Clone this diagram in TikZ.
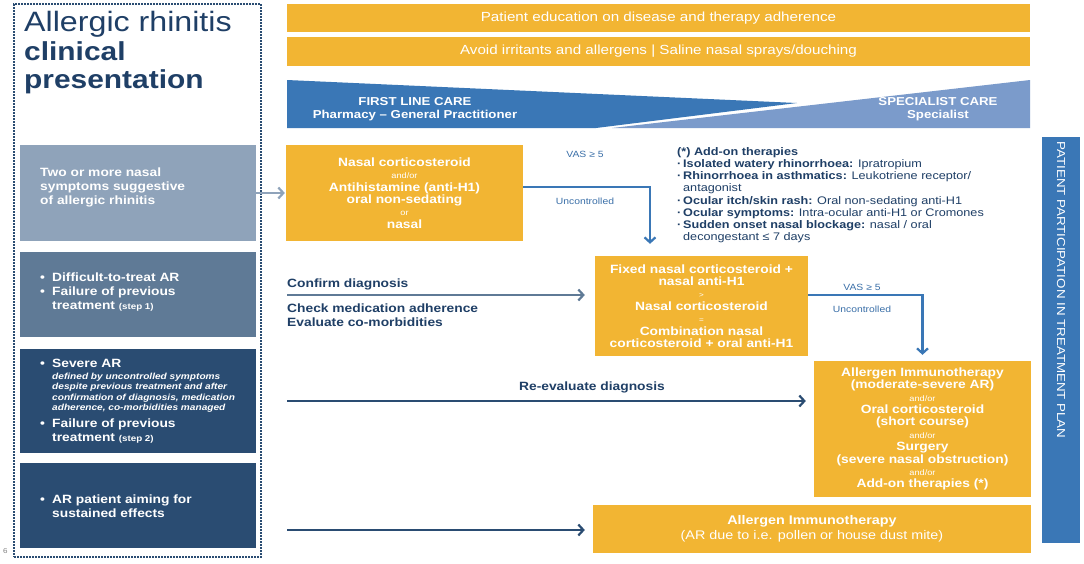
\documentclass[tikz,border=0pt]{standalone}
\usepackage{fontspec}
\setmainfont{Liberation Sans}[FakeStretch=1.15]
\usetikzlibrary{arrows.meta}
\definecolor{orng}{HTML}{F2B533}
\definecolor{slateA}{HTML}{8FA3BA}
\definecolor{slateB}{HTML}{5F7A96}
\definecolor{navy}{HTML}{2A4C72}
\definecolor{navytxt}{HTML}{1F3F66}
\definecolor{blued}{HTML}{3A77B6}
\definecolor{bluel}{HTML}{7B9BCB}
\definecolor{bluet}{HTML}{3A6FA8}
\newcommand\fs[2]{\fontsize{#1}{#2}\selectfont}
\newcommand\adbul{\makebox[6pt][l]{\textbf{·}}}
\newcommand\adind{\hspace*{6pt}}
\newcommand\lbul{\makebox[12pt][l]{•}}
\tikzset{
  obox/.style={fill=orng, text=white, font=\bfseries\fs{12}{12.4}, align=center, inner sep=0pt},
  lbox/.style={inner sep=0pt},
  ltext/.style={text=white, font=\bfseries\fs{12}{14}, align=left, anchor=north west, inner sep=0pt},
  ctext/.style={text=navytxt, font=\bfseries\fs{12}{14}, anchor=base west, inner sep=0pt},
  vlabel/.style={text=bluet, font=\fs{9}{10}, inner sep=0pt},
  arrw/.style={line width=2.2pt, -{Straight Barb[length=5pt,width=11pt]}},
  bartext/.style={text=white, font=\fs{13.2}{14}, inner sep=0pt},
}
\begin{document}
\begin{tikzpicture}[x=1pt,y=-1pt]
\useasboundingbox (0,0) rectangle (1084,563);
\fill[white] (0,0) rectangle (1084,563);

% left frame
\node[draw=navy, dash pattern=on 1.6pt off 1.4pt, line width=1.3pt, minimum width=247, minimum height=553, inner sep=0pt] (frame) at (137.5,280.5) {};
\node[text=navytxt, font=\fs{28}{28.5}, align=left, anchor=north west, inner sep=0pt] (title) at (24,11.5)
  {Allergic rhinitis\\ {\bfseries\fs{26}{28.5}clinical}\\ {\bfseries\fs{26}{28.5}presentation}};
\node[text=gray, font=\fs{7}{8}, anchor=base west, inner sep=0pt] (pgnum) at (3,553) {6};

% left boxes
\node[lbox, fill=slateA, minimum width=236, minimum height=96] (b1) at (138,193) {};
\node[lbox, fill=slateB, minimum width=236, minimum height=85] (b2) at (138,294.5) {};
\node[lbox, fill=navy, minimum width=236, minimum height=104] (b3) at (138,401) {};
\node[lbox, fill=navy, minimum width=236, minimum height=85] (b4) at (138,505.5) {};

\node[ltext] (b1t) at (40,168) {Two or more nasal\\ symptoms suggestive\\ of allergic rhinitis};
\node[ltext] (b2t) at (40,272.3) {\lbul Difficult-to-treat AR\\ \lbul Failure of previous\\ \hspace*{12pt}treatment {\fs{8.5}{10}(step 1)}};
\node[ltext] (b3t) at (40,359.3) {\lbul Severe AR};
\node[ltext, font=\bfseries\itshape\fs{8.8}{10.5}] (b3i) at (52,372.6) {defined by uncontrolled symptoms\\ despite previous treatment and after\\ confirmation of diagnosis, medication\\ adherence, co-morbidities managed};
\node[ltext] (b3f) at (40,418.3) {\lbul Failure of previous\\ \hspace*{12pt}treatment {\fs{8.5}{10}(step 2)}};
\node[ltext] (b4t) at (40,494.3) {\lbul AR patient aiming for\\ \hspace*{12pt}sustained effects};

% top bars
\node[obox, minimum width=743, minimum height=28] (edu) at (658.5,18) {};
\node[bartext] (edut) at (edu.center) {Patient education on disease and therapy adherence};
\node[obox, minimum width=743, minimum height=29] (avoid) at (658.5,51.5) {};
\node[bartext] (avoidt) at (avoid.center) {Avoid irritants and allergens | Saline nasal sprays/douching};

% care wedges
\fill[blued] (287,80) -- (797,103) -- (596,128) -- (287,128) -- cycle;
\fill[bluel] (612,128) -- (1030,80) -- (1030,128) -- cycle;
\node[text=white, font=\bfseries\fs{11.5}{13}, align=center, inner sep=0pt] (flc) at (415,109) {FIRST LINE CARE\\ Pharmacy – General Practitioner};
\node[text=white, font=\bfseries\fs{11.5}{13}, align=center, inner sep=0pt] (spc) at (938,109) {SPECIALIST CARE\\ Specialist};

% treatment boxes
\node[obox, minimum width=237, minimum height=96] (ncs) at (404.5,193)
  {Nasal corticosteroid\\ {\mdseries\fs{8}{8}and/or}\\ Antihistamine (anti-H1)\\ oral non-sedating\\ {\mdseries\fs{8}{8}or}\\ nasal};
\node[obox, minimum width=213, minimum height=100] (fixed) at (701.5,306)
  {Fixed nasal corticosteroid +\\ nasal anti-H1\\ {\mdseries\fs{7}{7}>}\\ Nasal corticosteroid\\ {\mdseries\fs{7}{7}=}\\ Combination nasal\\ corticosteroid + oral anti-H1};
\node[obox, minimum width=217, minimum height=136] (ait) at (922.5,429)
  {Allergen Immunotherapy\\ (moderate-severe AR)\\ {\mdseries\fs{8}{8}and/or}\\ Oral corticosteroid\\ (short course)\\ {\mdseries\fs{8}{8}and/or}\\ Surgery\\ (severe nasal obstruction)\\ {\mdseries\fs{8}{8}and/or}\\ Add-on therapies (*)};
\node[obox, font=\fs{12.5}{14.5}, minimum width=438, minimum height=48] (ait2) at (812,529)
  {\textbf{Allergen Immunotherapy}\\ (AR due to i.e. pollen or house dust mite)};

% add-on therapies
\node[text=navytxt, font=\fs{11}{12.2}, align=left, anchor=north west, inner sep=0pt] (addon) at (677,147.2)
  {\textbf{(*) Add-on therapies}\\
   \adbul\textbf{Isolated watery rhinorrhoea:} Ipratropium\\
   \adbul\textbf{Rhinorrhoea in asthmatics:} Leukotriene receptor/\\
   \adind antagonist\\
   \adbul\textbf{Ocular itch/skin rash:} Oral non-sedating anti-H1\\
   \adbul\textbf{Ocular symptoms:} Intra-ocular anti-H1 or Cromones\\
   \adbul\textbf{Sudden onset nasal blockage:} nasal / oral\\
   \adind decongestant ≤ 7 days};

% patient participation bar
\node[lbox, fill=blued, minimum width=38, minimum height=406] (ppbar) at (1061,340) {};
\node[text=white, font=\fs{11.6}{12}, rotate=-90, inner sep=0pt] (ppt) at (1061,290) {PATIENT PARTICIPATION IN TREATMENT PLAN};

% middle texts
\node[ctext] (conf) at (287,287) {Confirm diagnosis};
\node[ctext] (chk) at (287,312) {Check medication adherence};
\node[ctext] (evl) at (287,326) {Evaluate co-morbidities};
\node[ctext, anchor=base] (reev) at (592,390) {Re-evaluate diagnosis};
\coordinate (cstart) at (287,295);
\coordinate (rstart) at (287,401);
\coordinate (bstart) at (287,530);

% labels
\node[vlabel] (vas1) at (585,154) {VAS ≥ 5};
\node[vlabel] (unc1) at (585,201) {Uncontrolled};
\node[vlabel] (vas2) at (862,287) {VAS ≥ 5};
\node[vlabel] (unc2) at (862,309) {Uncontrolled};

% connectors
\draw[arrw, slateA] (b1.east) -- ([xshift=-1pt]ncs.west);
\draw[arrw, blued] ([yshift=6pt]ncs.east) -| ([xshift=-51.5pt,yshift=12pt]fixed.north);
\draw[arrw, slateB] (cstart) -- ([xshift=-10pt,yshift=11pt]fixed.west);
\draw[arrw, blued] ([yshift=11pt]fixed.east) -| ([yshift=6pt]ait.north);
\draw[arrw, navy] (rstart) -- ([xshift=-8pt,yshift=28pt]ait.west);
\draw[arrw, navy] (bstart) -- ([xshift=-8pt,yshift=-1pt]ait2.west);
\end{tikzpicture}
\end{document}
